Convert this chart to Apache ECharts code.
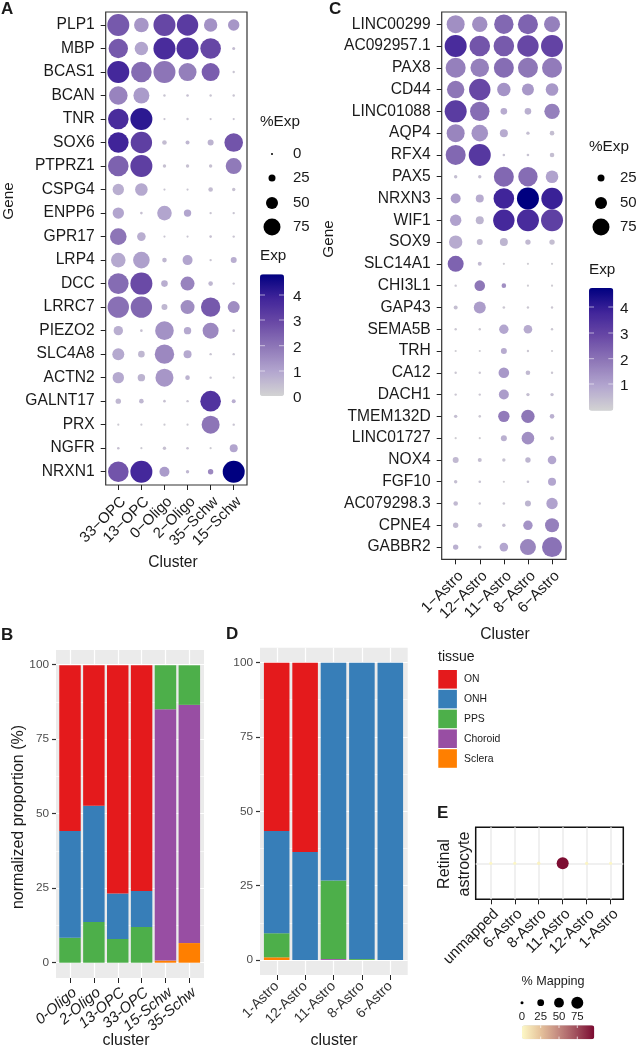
<!DOCTYPE html>
<html><head><meta charset="utf-8">
<script src="https://cdn.jsdelivr.net/npm/echarts@6/dist/echarts.min.js"></script>
<style>html,body{margin:0;padding:0;background:#fff}#c{width:638px;height:1049px}</style>
</head><body><div id="c"></div>
<script>
const genesA=['PLP1','MBP','BCAS1','BCAN','TNR','SOX6','PTPRZ1','CSPG4','ENPP6','GPR17','LRP4','DCC','LRRC7','PIEZO2','SLC4A8','ACTN2','GALNT17','PRX','NGFR','NRXN1'];
const clustersA=['33−OPC','13−OPC','0−Oligo','2−Oligo','35−Schw','15−Schw'];
const pctA=[[100,63,100,97,57,47],[87,57,100,100,93,5],[100,93,100,80,80,2],[83,70,2,3,2,2],[93,100,1,2,1,1],[93,97,13,10,20,83],[93,100,7,7,7,70],[47,53,1,1,13,7],[47,3,63,27,2,2],[73,33,1,1,3,2],[63,73,13,40,2,20],[93,100,23,60,13,2],[97,97,20,60,87,50],[37,3,83,27,70,3],[50,23,87,30,2,2],[47,27,80,13,2,1],[17,13,3,2,93,10],[1,1,1,1,80,2],[3,1,7,3,1,30],[93,100,40,7,17,100]];
const expA=[[2.6,1.3,3.0,3.3,1.4,1.3],[2.6,1.0,3.7,3.5,3.0,.5],[3.8,2.2,2.0,1.8,2.5,.3],[1.7,1.2,.3,.4,.3,.3],[3.7,4.2,.3,.3,.3,.3],[3.9,3.2,.5,.6,.7,2.7],[2.4,3.2,.4,.4,.4,1.9],[.8,.9,.3,.3,.5,.4],[1.0,.4,1.0,1.0,.3,.3],[2.0,.8,.3,.3,.4,.3],[.9,1.1,.6,1.0,.3,.8],[2.2,2.9,.8,1.7,.6,.3],[2.1,2.3,.6,1.5,2.6,1.5],[.8,.4,1.4,.9,1.6,.4],[.9,.6,1.6,.9,.3,.3],[.9,.7,1.3,.7,.3,.2],[.6,.6,.4,.3,3.5,.8],[.2,.2,.2,.2,2.0,.3],[.4,.2,.4,.4,.2,1.0],[2.7,3.8,1.2,.6,1.6,4.85]];
const genesC=['LINC00299','AC092957.1','PAX8','CD44','LINC01088','AQP4','RFX4','PAX5','NRXN3','WIF1','SOX9','SLC14A1','CHI3L1','GAP43','SEMA5B','TRH','CA12','DACH1','TMEM132D','LINC01727','NOX4','FGF10','AC079298.3','CPNE4','GABBR2'];
const clustersC=['1−Astro','12−Astro','11−Astro','8−Astro','6−Astro'];
const pctC=[[80,67,87,90,70],[100,93,93,97,100],[90,83,90,90,90],[77,97,57,50,53],[100,87,23,23,67],[80,73,30,7,13],[90,100,3,3,13],[7,7,90,87,53],[40,30,93,100,97],[47,30,97,100,100],[57,20,30,17,17],[70,10,1,1,1],[2,43,13,1,1],[10,50,3,2,2],[2,2,37,33,2],[1,1,20,2,1],[2,2,43,13,2],[2,2,40,7,7],[7,3,47,57,13],[1,1,20,53,10],[20,10,7,17,33],[7,3,1,3,30],[13,2,3,20,47],[17,13,7,37,60],[17,7,33,70,90]];
const expC=[[1.5,1.5,2.3,2.4,1.8],[3.7,2.7,2.6,3,3.1],[1.8,1.8,2.2,2.0,1.9],[2.0,3.0,1.4,1.3,1.3],[3.3,2.2,.9,.8,1.8],[1.7,1.4,.9,.5,.5],[2.3,3.4,.4,.4,.5],[.5,.5,2.3,2.2,1.1],[1.2,.9,3.9,4.85,4.0],[1.1,.7,3.8,3.7,3.2],[.9,.6,.7,.6,.5],[2.4,.6,.2,.2,.2],[.3,2.0,1.5,.2,.2],[.5,1.2,.3,.3,.3],[.3,.3,1.0,.9,.3],[.2,.2,.9,.3,.2],[.3,.3,1.3,.6,.3],[.3,.3,1.2,.5,.5],[.5,.3,1.9,2.0,.8],[.2,.2,.8,1.5,.6],[.6,.5,.4,.7,1.0],[.5,.4,.2,.4,1.0],[.6,.3,.3,.7,1.1],[.6,.5,.5,1.4,1.8],[.8,.4,1.0,1.7,2.1]];
const tissues=['Sclera','Choroid','PPS','ONH','ON'];
const legendTissues=['ON','ONH','PPS','Choroid','Sclera'];
const tissueColors={ON:'#E41A1C',ONH:'#377EB8',PPS:'#4DAF4A',Choroid:'#984EA3',Sclera:'#FF7F00'};
const clustersB=['0-Oligo','2-Oligo','13-OPC','33-OPC','15-Schw','35-Schw'];
const propB={Sclera:[0,0,0,0,.7,6.6],Choroid:[0,0,0,0,84.5,80.1],PPS:[8.4,13.7,8,12,14.8,13.3],ONH:[35.9,39.1,15.3,12.1,0,0],ON:[55.7,47.2,76.7,75.9,0,0]};
const clustersD=['1-Astro','12-Astro','11-Astro','8-Astro','6-Astro'];
const propD={Sclera:[.9,0,0,0,0],Choroid:[0,0,.3,0,0],PPS:[8.1,0,26.4,.3,0],ONH:[34.4,36.3,73.3,99.7,100],ON:[56.6,63.7,0,0,0]};
const clustersE=['unmapped','6-Astro','8-Astro','11-Astro','12-Astro','1-Astro'];
const mappingE=[1,1,3,97,2,1];
const propTicks=[0,25,50,75,100];
const propMinor=[12.5,37.5,62.5,87.5];
const expScale=['#d3d3d3','#b3a6cf','#8f78b8','#6a4aa6','#41259a','#000080'];
const mapScale=['#fdf8c6','#e6c49c','#c48a80','#a04e5c','#7b0a30'];

const FONT='"Liberation Sans",Arial,sans-serif', INK='#1a1a1a', GRAY='#4d4d4d';
const dotSize=p=>2+0.2*p;
const mapSize=p=>3+0.12*Math.min(p,75);
const range=n=>Array.from({length:n},(_,i)=>i);

const grids=[],xAxes=[],yAxes=[],series=[],g=[];
function addGrid(b,x,y){grids.push(Object.assign({containLabel:false},b));const i=grids.length-1;
  xAxes.push(Object.assign({gridIndex:i,type:'value',splitLine:{show:false},axisLine:{show:false,onZero:false}},x));
  yAxes.push(Object.assign({gridIndex:i,type:'value',splitLine:{show:false},axisLine:{show:false,onZero:false}},y));return i;}
function catAxis(names,min,max,fs,margin,extra){const t=range(names.length);
  return Object.assign({min,max,axisTick:{show:true,length:5,customValues:t,lineStyle:{color:'#222',width:1}},
   axisLabel:Object.assign({customValues:t,formatter:v=>names[v],fontSize:fs,fontFamily:FONT,color:INK,margin,hideOverlap:false,showMinLabel:true,showMaxLabel:true},extra||{})},{});}

function dotPanel(box,genes,clusters,pct,exp,xr,yr){
  const i=addGrid(Object.assign({show:true,borderColor:'#333',borderWidth:1.2,backgroundColor:'#fff'},box),
    catAxis(clusters,xr[0],xr[1],15,9,{rotate:45,verticalAlign:'top'}),
    Object.assign(catAxis(genes,yr[0],yr[1],15.6,11),{inverse:true}));
  const data=[];genes.forEach((_,r)=>clusters.forEach((_,c)=>data.push([c,r,pct[r][c],exp[r][c]])));
  series.push({type:'scatter',xAxisIndex:i,yAxisIndex:i,data,symbolSize:v=>dotSize(v[2]),itemStyle:{opacity:1},silent:true,clip:false,z:3});
}
dotPanel({left:105.7,top:12,width:141.3,height:473},genesA,clustersA,pctA,expA,[-0.546,5.576],[-0.553,19.566]);
dotPanel({left:441.7,top:12,width:124.3,height:547.3},genesC,clustersC,pctC,expC,[-0.58,4.58],[-0.56,24.56]);

// A bar panel is two grids: the grey back one holds axes and white guide lines,
// the front one holds the stacked bars on a category axis.
function barPanel(box,bars,names,prop,xr,yr,lab){
  const back=addGrid(Object.assign({show:true,borderWidth:0,backgroundColor:'#ebebeb'},box),
    catAxis(names,xr[0],xr[1],lab.fontSize,lab.margin,lab),
    {min:yr[0],max:yr[1],axisTick:{show:true,length:4,customValues:propTicks,lineStyle:{color:'#333',width:1.2}},
     axisLabel:{customValues:propTicks,fontSize:11.8,fontFamily:FONT,color:GRAY,margin:7}});
  series.push({type:'scatter',xAxisIndex:back,yAxisIndex:back,data:[],silent:true,
    markLine:{silent:true,symbol:'none',z:1,label:{show:false},animation:false,data:[
      ...propMinor.map(v=>({yAxis:v,lineStyle:{color:'#fff',width:.6,type:'solid'}})),
      ...propTicks.map(v=>({yAxis:v,lineStyle:{color:'#fff',width:1.2,type:'solid'}})),
      ...names.map((_,c)=>({xAxis:c,lineStyle:{color:'#fff',width:1.2,type:'solid'}}))]}});
  const front=addGrid(bars,{type:'category',data:names,axisTick:{show:false},axisLabel:{show:false}},
    {min:0,max:100,axisTick:{show:false},axisLabel:{show:false}});
  tissues.forEach(t=>series.push({type:'bar',name:t,xAxisIndex:front,yAxisIndex:front,stack:'p'+front,barWidth:'90%',silent:true,z:3,
      itemStyle:{color:tissueColors[t]},data:prop[t]}));
}
barPanel({left:56,top:650,width:148,height:328},{left:58.07,top:665.3,width:143.2,height:297.4},clustersB,propB,[-0.587,5.613],[-5.25,104.95],{rotate:40,fontSize:15,margin:7,fontStyle:'italic',color:INK,verticalAlign:'top'});
barPanel({left:260,top:647.7,width:147.7,height:327.3},{left:262.5,top:662.7,width:142,height:297.3},clustersD,propD,[-0.59,4.61],[-5.05,105],{rotate:45,fontSize:14,margin:9,color:'#333'});

// Panel E
const e=addGrid({show:true,left:475.7,top:827.3,width:147.6,height:72,borderColor:'#111',borderWidth:1.5,backgroundColor:'#fff'},
  Object.assign(catAxis(clustersE,-0.63,5.53,15,7,{rotate:45,verticalAlign:'top'}),{}),
  {min:-1,max:1,axisTick:{show:false},axisLabel:{show:false}});
const seriesE=series.length;
series.push({type:'scatter',xAxisIndex:e,yAxisIndex:e,silent:true,z:3,symbolSize:v=>mapSize(v[2]),itemStyle:{opacity:1},
  data:mappingE.map((m,c)=>[c,0,m]),
  markLine:{silent:true,symbol:'none',z:1,label:{show:false},animation:false,lineStyle:{color:'#ebebeb',width:1.5,type:'solid'},
    data:[{yAxis:0},...clustersE.map((_,c)=>({xAxis:c}))]}});

// graphic helpers
const T=(x,y,text,fs,o)=>g.push({type:'text',x,y,silent:true,z:20,rotation:(o&&o.rot)||0,style:{text,fontSize:fs,fontFamily:FONT,fill:(o&&o.fill)||INK,fontWeight:(o&&o.bold)?'bold':'normal',align:(o&&o.align)||'left',verticalAlign:'middle',lineHeight:(o&&o.lh)||undefined}});
[['A',1,9],['B',1,635],['C',329,9],['D',226,634],['E',437,813]].forEach(a=>T(a[1],a[2],a[0],17,{bold:true}));
T(9,201,'Gene',15.3,{rot:Math.PI/2,align:'center'});
T(329,239,'Gene',15.3,{rot:Math.PI/2,align:'center'});
T(173,563,'Cluster',15.6,{align:'center'});
T(505,635,'Cluster',15.6,{align:'center'});
T(19,817,'normalized proportion (%)',16,{rot:Math.PI/2,align:'center'});
T(126,1041,'cluster',16,{align:'center'});
T(334,1041,'cluster',16,{align:'center'});
T(454.5,864,'Retinal\nastrocyte',16,{rot:Math.PI/2,align:'center',lh:20});

function dotLegend(x,title,tx,ty,vals,ys,lx){
  T(tx,ty,title,15.3);
  vals.forEach((v,i)=>{g.push({type:'circle',silent:true,z:20,shape:{cx:x,cy:ys[i],r:dotSize(v)/2},style:{fill:'#000'}});T(lx,ys[i],String(v),15);});
}
dotLegend(272,'%Exp',260,122,[0,25,50,75],[154,178,203,227],293);
dotLegend(601,'%Exp',589,147,[25,50,75],[178,203,227],620);
T(260,256,'Exp',15.3);T(589,270,'Exp',15.3);
function barTicks(x0,w,ys,labels,lx){ys.forEach((y,i)=>{
  if(labels[i]!=='0'){[[x0,x0+5],[x0+w-5,x0+w]].forEach(p=>g.push({type:'line',silent:true,z:20,shape:{x1:p[0],y1:y,x2:p[1],y2:y},style:{stroke:'#fff',lineWidth:.7,opacity:.8}}));}
  T(lx,y+2,labels[i],15.3);});}
barTicks(260,24,[295,320,345.7,371,396],['4','3','2','1','0'],293);
barTicks(589,24.3,[307,333,358.7,384],['4','3','2','1'],620);

// tissue legend
T(438,657,'tissue',14);
legendTissues.forEach((t,i)=>{const y=670+i*19.8;
  g.push({type:'rect',silent:true,z:20,shape:{x:438.3,y,width:18.6,height:18.6},style:{fill:tissueColors[t]}});
  T(464,y+9.5,t,10.4);});

// mapping legend
T(553,982,'% Mapping',12.6,{align:'center'});
[[0,522],[25,540.7],[50,559],[75,577.3]].forEach(a=>{
  g.push({type:'circle',silent:true,z:20,shape:{cx:a[1],cy:1002.7,r:mapSize(a[0])/2+(a[0]===25||a[0]===50?.4:0)},style:{fill:'#000'}});
  T(a[1],1017,String(a[0]),11.4,{align:'center'});
  if(a[0]>0){[[1025.3,1028],[1036.6,1039.3]].forEach(p=>g.push({type:'line',silent:true,z:20,shape:{x1:a[1],y1:p[0],x2:a[1],y2:p[1]},style:{stroke:'#fff',lineWidth:.7}}));}
});

const vm=(idx,min,max,left,top,w,h,colors,orient)=>({type:'continuous',seriesIndex:idx,dimension:orient?2:3,min,max,left,top,itemWidth:w,itemHeight:h,orient:orient||'vertical',padding:0,inRange:{color:colors},calculable:false,hoverLink:false,realtime:false,text:null,z:10});
const chart=echarts.init(document.getElementById('c'),null,{renderer:'canvas'});
chart.setOption({animation:false,backgroundColor:'#fff',textStyle:{fontFamily:FONT},
  grid:grids,xAxis:xAxes,yAxis:yAxes,series,graphic:{elements:g},
  visualMap:[vm(0,0,4.85,260,274.3,24,121.7,expScale),vm(1,.05,4.85,589,288,24.3,122.7,expScale),vm(seriesE,0,98,522,1025.3,14,72.3,mapScale,'horizontal')]});
</script></body></html>
